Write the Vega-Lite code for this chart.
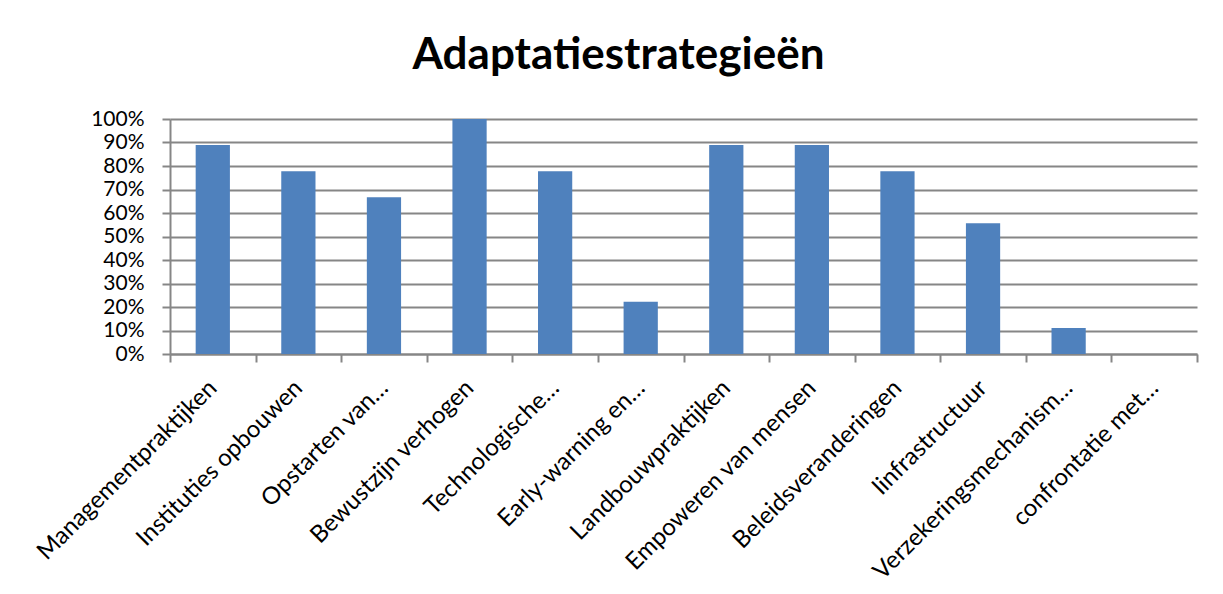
{
  "$schema": "https://vega.github.io/schema/vega-lite/v6.json",
  "autosize": {"type": "none"},
  "width": 1027,
  "height": 235,
  "padding": {"left": 170, "top": 119, "right": 26, "bottom": 240},
  "background": "white",
  "title": {
    "text": "Adaptatiestrategieën",
    "font": "Lato",
    "fontSize": 44,
    "fontWeight": "bold",
    "color": "#000000",
    "anchor": "middle",
    "frame": "group",
    "dx": -65,
    "offset": 30
  },
  "data": {
    "values": [
      {"strategie": "Managementpraktijken", "aandeel": 0.889},
      {"strategie": "Instituties opbouwen", "aandeel": 0.778},
      {"strategie": "Opstarten van…", "aandeel": 0.667},
      {"strategie": "Bewustzijn verhogen", "aandeel": 1.0},
      {"strategie": "Technologische…", "aandeel": 0.778},
      {"strategie": "Early-warning en…", "aandeel": 0.222},
      {"strategie": "Landbouwpraktijken", "aandeel": 0.889},
      {"strategie": "Empoweren van mensen", "aandeel": 0.889},
      {"strategie": "Beleidsveranderingen", "aandeel": 0.778},
      {"strategie": "Iinfrastructuur", "aandeel": 0.556},
      {"strategie": "Verzekeringsmechanism…", "aandeel": 0.111},
      {"strategie": "confrontatie met…", "aandeel": 0.0}
    ]
  },
  "mark": {"type": "bar", "color": "#4f81bd", "width": {"band": 0.4}},
  "encoding": {
    "x": {
      "field": "strategie",
      "type": "nominal",
      "sort": null,
      "scale": {"paddingInner": 0, "paddingOuter": 0},
      "axis": {
        "title": null,
        "labelAngle": -45,
        "labelAlign": "right",
        "labelBaseline": "middle",
        "labelFont": "Lato",
        "labelFontSize": 24,
        "labelColor": "#000000",
        "labelPadding": 22,
        "labelLimit": 400,
        "tickBand": "extent",
        "tickSize": 8,
        "tickColor": "#868686",
        "tickWidth": 2,
        "domainColor": "#868686",
        "domainWidth": 2,
        "grid": false
      }
    },
    "y": {
      "field": "aandeel",
      "type": "quantitative",
      "scale": {"domain": [0, 1], "nice": false},
      "axis": {
        "title": null,
        "values": [0, 0.1, 0.2, 0.3, 0.4, 0.5, 0.6, 0.7, 0.8, 0.9, 1.0],
        "format": ".0%",
        "labelFont": "Lato",
        "labelFontSize": 21,
        "labelColor": "#000000",
        "labelPadding": 18,
        "tickSize": 8,
        "tickColor": "#868686",
        "tickWidth": 2,
        "domainColor": "#868686",
        "domainWidth": 2,
        "grid": true,
        "gridColor": "#868686",
        "gridWidth": 2
      }
    }
  },
  "config": {"view": {"stroke": null}}
}
